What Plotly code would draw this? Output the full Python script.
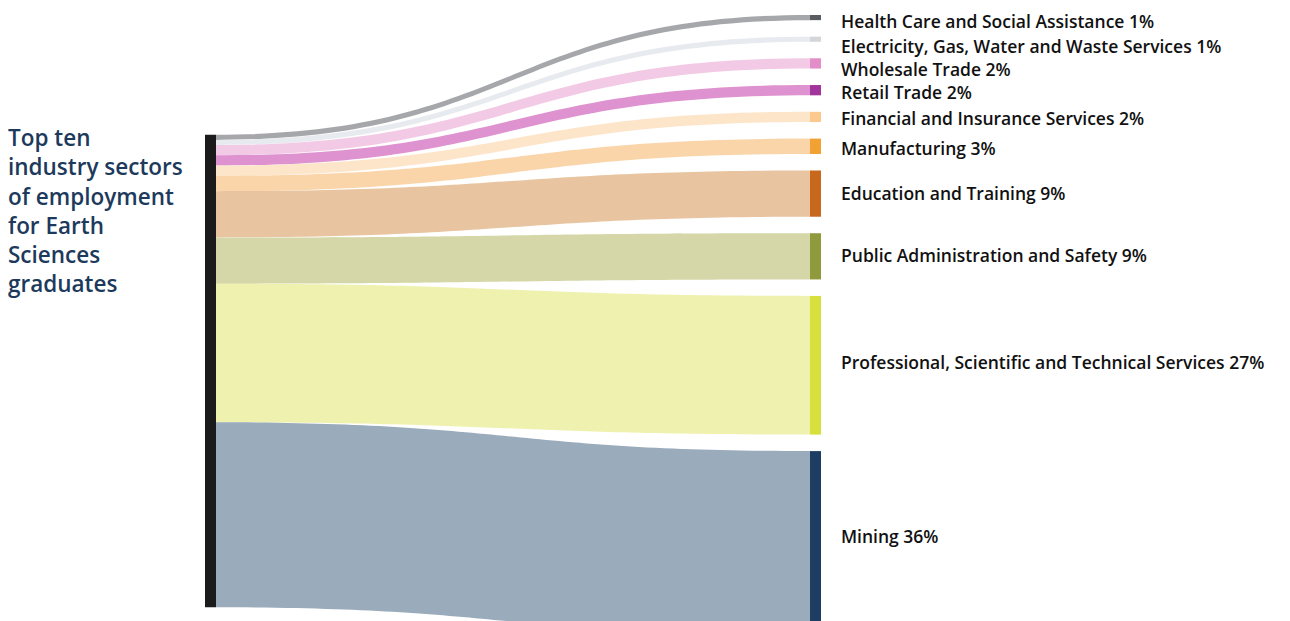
import plotly.graph_objects as go

# ---------------- data ----------------
source_label = "Top ten<br>industry sectors<br>of employment<br>for Earth<br>Sciences<br>graduates"
sectors = [
    "Health Care and Social Assistance",
    "Electricity, Gas, Water and Waste Services",
    "Wholesale Trade",
    "Retail Trade",
    "Financial and Insurance Services",
    "Manufacturing",
    "Education and Training",
    "Public Administration and Safety",
    "Professional, Scientific and Technical Services",
    "Mining",
]
shares = [1, 1, 2, 2, 2, 3, 9, 9, 27, 36]

source_color = "#1b1b1b"
node_colors = ["#5a5d61", "#d4d7da", "#e48ec9", "#a2359c", "#fcc98f",
               "#f1a233", "#c8681d", "#8f9a3c", "#d7e03c", "#1e3d62"]
link_colors = ["rgba(150,152,155,0.85)", "rgba(228,232,236,0.9)", "rgba(242,196,226,0.9)",
               "rgba(220,140,204,0.95)", "rgba(253,226,196,0.9)", "rgba(249,208,160,0.9)",
               "rgba(231,193,155,0.95)", "rgba(211,213,163,0.95)", "rgba(238,240,170,0.95)",
               "rgba(154,171,188,1)"]

# ---------------- layout constants ----------------
W, H = 1290, 621
top_px = 15          # where the first target node starts
pad_px = 16.5
thick = 11
x0_px, x1_px = 205, 821
dom_w = x1_px - x0_px
left_center_px = 371  # centre of the source node (page px)
label_nudge_px = [3, 7, 6, 2, 1, 2, -1, -1, -3, -8]  # small label offsets (style)

n = len(shares)
total = sum(shares)
ky = (H - (n - 1) * pad_px) / total
centers = []
acc = float(top_px)
for v in shares:
    h = v * ky
    centers.append(acc + h / 2)
    acc += h + pad_px

node_x = [thick / 2 / dom_w] + [1 - thick / 2 / dom_w] * n
node_y = [left_center_px / H] + [c / H for c in centers]

fig = go.Figure(go.Sankey(
    arrangement="fixed",
    domain=dict(x=[x0_px / W, x1_px / W], y=[0, 1]),
    node=dict(
        label=[""] * (n + 1),
        color=[source_color] + node_colors,
        thickness=thick,
        pad=pad_px,
        line=dict(width=0),
        x=node_x,
        y=node_y,
        hoverinfo="none",
    ),
    link=dict(
        source=[0] * n,
        target=list(range(1, n + 1)),
        value=shares,
        color=link_colors,
        hoverinfo="none",
    ),
))

annotations = []
for name, v, c, dy in zip(sectors, shares, centers, label_nudge_px):
    annotations.append(dict(
        text=f"{name} {v}%",
        x=(x1_px + 18) / W, xref="paper", xanchor="left",
        y=1 - (c + dy) / H, yref="paper", yanchor="middle",
        showarrow=False,
        font=dict(family="Open Sans", size=17.5, color="#111111", weight=600),
    ))
annotations.append(dict(
    text=source_label,
    x=6 / W, xref="paper", xanchor="left",
    y=1 - 120 / H, yref="paper", yanchor="top",
    showarrow=False, align="left",
    font=dict(family="Open Sans", size=22.5, color="#1d3a5c", weight=600),
))

fig.update_layout(
    width=W, height=H,
    margin=dict(l=0, r=0, t=0, b=0),
    paper_bgcolor="white",
    plot_bgcolor="white",
    annotations=annotations,
)

fig.write_html("out.html", config={"displayModeBar": False},
               post_script="document.body.style.margin='0';")
